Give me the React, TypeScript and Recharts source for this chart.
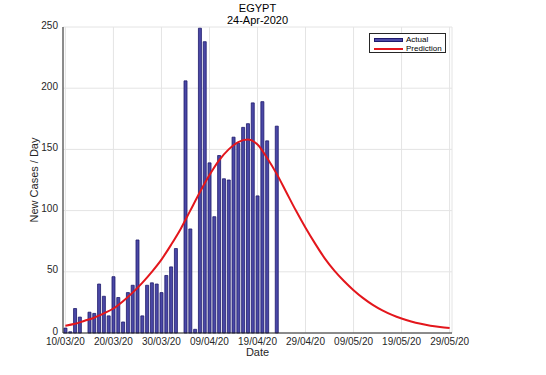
import React from 'react';
import { ComposedChart, Bar, Line, XAxis, YAxis, CartesianGrid, Legend } from 'recharts';

// Days counted from 10/03/20 (index 0) to 29/05/20 (index 80)
const xTickLabels = ['10/03/20', '20/03/20', '30/03/20', '09/04/20', '19/04/20', '29/04/20', '09/05/20', '19/05/20', '29/05/20'];
const yTicks = [0, 50, 100, 150, 200, 250];

// Actual new cases per day, from 10/03/20 to 23/04/20
const actual = [
  4, 1, 20, 13, 0, 17, 16, 40, 30, 14,
  46, 29, 9, 33, 39, 76, 14, 39, 41, 40,
  33, 47, 54, 69, 0, 206, 85, 3, 249, 238,
  139, 95, 145, 126, 125, 160, 155, 168, 171, 188,
  112, 189, 157, 0, 169,
];

// Prediction, read every second day from 10/03/20 to 29/05/20
const prediction = [
  6, 7.5, 10, 12.5, 16, 20, 26, 33, 41, 50,
  60, 72, 85, 100, 115, 129, 141, 150, 156, 158,
  154, 143, 130, 115, 100, 86, 73, 61, 51, 42.5,
  35, 28.5, 23, 18.5, 14.8, 11.8, 9.4, 7.5, 6, 4.9,
  4,
];

const dayCount = 81;

const data = Array.from({ length: dayCount }, (_, i) => ({
  day: i,
  actual: i < actual.length ? actual[i] : null,
  prediction: i % 2 === 0 ? prediction[i / 2] : null,
}));

const FONT = '"Liberation Sans", Arial, Helvetica, sans-serif';
const AXIS = '#262626';
const BAR_FILL = '#4a48a6';
const BAR_STROKE = '#1e1a6c';
const LINE_RED = '#e3161c';

const renderLegend = (props: any) => {
  const payload = props.payload || [];
  return (
    <div
      style={{
        border: `1px solid ${AXIS}`,
        background: '#fff',
        width: 77,
        height: 20,
        boxSizing: 'border-box',
        padding: '1px 0 0 4px',
        fontFamily: FONT,
        fontSize: 8,
        lineHeight: '9px',
        color: '#000',
      }}
    >
      {payload.map((entry: any) => (
        <div key={entry.value} style={{ display: 'flex', alignItems: 'center', height: 9 }}>
          {entry.dataKey === 'actual' ? (
            <span
              style={{
                display: 'inline-block',
                width: 29,
                height: 4,
                background: BAR_FILL,
                border: `1px solid ${BAR_STROKE}`,
                boxSizing: 'border-box',
              }}
            />
          ) : (
            <span style={{ display: 'inline-block', width: 29, height: 2, background: LINE_RED }} />
          )}
          <span style={{ marginLeft: 3 }}>{entry.value}</span>
        </div>
      ))}
    </div>
  );
};

export default function App() {
  return (
    <div style={{ position: 'absolute', left: 0, top: 0, width: 546, height: 375, background: '#fff' }}>
      <div
        style={{
          position: 'absolute',
          left: 63,
          top: 3,
          width: 389,
          textAlign: 'center',
          fontFamily: FONT,
          fontSize: 11,
          lineHeight: '11.5px',
          color: '#000',
        }}
      >
        <div>EGYPT</div>
        <div>24-Apr-2020</div>
      </div>
      <ComposedChart
        width={546}
        height={375}
        data={data}
        margin={{ top: 27, right: 94, bottom: 0, left: 0 }}
        barCategoryGap="20%"
        style={{ fontFamily: FONT }}
      >
        <CartesianGrid stroke="#e4e4e4" />
        <XAxis
          dataKey="day"
          type="category"
          interval={9}
          tickFormatter={(v: any) => xTickLabels[Number(v) / 10] ?? ''}
          tick={{ fontSize: 10, fill: AXIS, fontFamily: FONT }}
          tickLine={false}
          tickSize={0}
          tickMargin={5}
          axisLine={{ stroke: AXIS }}
          height={42}
          label={{ value: 'Date', position: 'insideBottom', offset: 19, fontSize: 11, fill: AXIS, fontFamily: FONT }}
        />
        <XAxis
          xAxisId="top"
          orientation="top"
          dataKey="day"
          type="category"
          tick={false}
          tickLine={false}
          height={0}
          axisLine={{ stroke: AXIS }}
        />
        <YAxis
          domain={[0, 250]}
          ticks={yTicks}
          tick={{ fontSize: 10, fill: AXIS, fontFamily: FONT, dy: -2 }}
          tickLine={false}
          tickSize={0}
          tickMargin={5}
          axisLine={{ stroke: AXIS }}
          width={63}
          label={{
            value: 'New Cases / Day',
            angle: -90,
            position: 'insideLeft',
            offset: 34,
            fontSize: 11,
            fill: AXIS,
            fontFamily: FONT,
            style: { textAnchor: 'middle' },
          }}
        />
        <YAxis
          yAxisId="right"
          orientation="right"
          domain={[0, 250]}
          tick={false}
          tickLine={false}
          width={0}
          axisLine={{ stroke: AXIS }}
        />
        <Legend
          layout="vertical"
          align="center"
          verticalAlign="middle"
          content={renderLegend}
          wrapperStyle={{ position: 'absolute', left: 369, top: 33, width: 77, height: 20 }}
        />
        <Bar
          dataKey="actual"
          name="Actual"
          fill={BAR_FILL}
          stroke={BAR_STROKE}
          strokeWidth={0.8}
          isAnimationActive={false}
        />
        <Line
          dataKey="prediction"
          name="Prediction"
          type="monotone"
          stroke={LINE_RED}
          strokeWidth={2}
          dot={false}
          connectNulls
          isAnimationActive={false}
        />
      </ComposedChart>
    </div>
  );
}
